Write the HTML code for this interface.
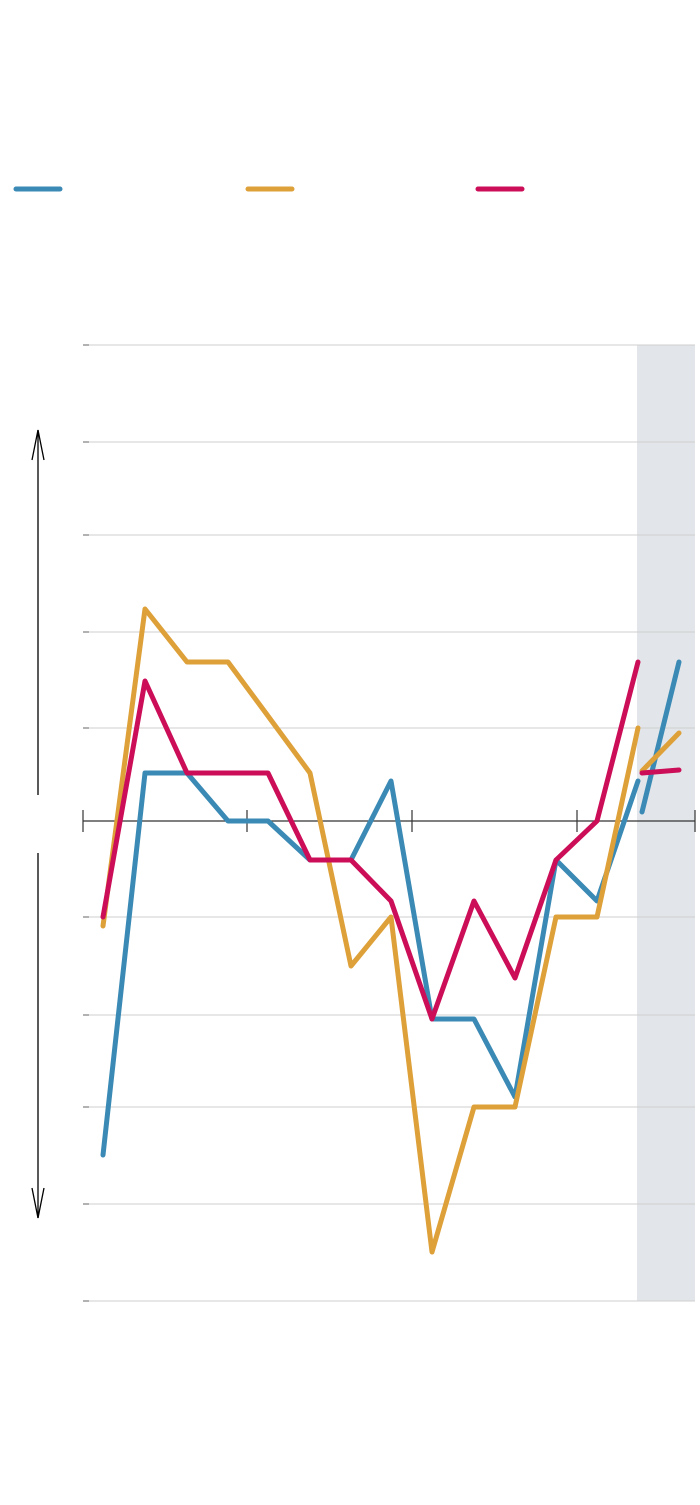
<!DOCTYPE html>
<html><head><meta charset="utf-8"><style>html,body{margin:0;padding:0;background:#fff}</style></head>
<body>
<svg width="700" height="1500" viewBox="0 0 700 1500" xmlns="http://www.w3.org/2000/svg">
<rect x="637" y="345" width="58" height="956" fill="#e2e6ea"/>
<g stroke="#cfcfcf" stroke-width="1">
<line x1="83" y1="345" x2="695" y2="345"/><line x1="83" y1="442" x2="695" y2="442"/>
<line x1="83" y1="535" x2="695" y2="535"/><line x1="83" y1="632" x2="695" y2="632"/>
<line x1="83" y1="728" x2="695" y2="728"/><line x1="83" y1="917" x2="695" y2="917"/>
<line x1="83" y1="1015" x2="695" y2="1015"/><line x1="83" y1="1107" x2="695" y2="1107"/>
<line x1="83" y1="1204" x2="695" y2="1204"/><line x1="83" y1="1301" x2="695" y2="1301"/>
</g>
<g stroke="#666" stroke-width="1">
<line x1="83" y1="345" x2="89" y2="345"/><line x1="83" y1="442" x2="89" y2="442"/>
<line x1="83" y1="535" x2="89" y2="535"/><line x1="83" y1="632" x2="89" y2="632"/>
<line x1="83" y1="728" x2="89" y2="728"/><line x1="83" y1="917" x2="89" y2="917"/>
<line x1="83" y1="1015" x2="89" y2="1015"/><line x1="83" y1="1107" x2="89" y2="1107"/>
<line x1="83" y1="1204" x2="89" y2="1204"/><line x1="83" y1="1301" x2="89" y2="1301"/>
</g>
<g stroke="#333" stroke-width="1.2">
<line x1="83" y1="821" x2="695" y2="821"/>
<line x1="83" y1="810" x2="83" y2="832"/><line x1="247" y1="810" x2="247" y2="832"/>
<line x1="412" y1="810" x2="412" y2="832"/><line x1="577" y1="810" x2="577" y2="832"/>
<line x1="695" y1="810" x2="695" y2="832"/>
</g>
<g stroke="#000" stroke-width="1.3" fill="none">
<line x1="38" y1="795" x2="38" y2="430"/><polyline points="32,460 38,430 44,460"/>
<line x1="38" y1="853" x2="38" y2="1218"/><polyline points="32,1188 38,1218 44,1188"/>
</g>
<g fill="none" stroke-width="5" stroke-linejoin="round" stroke-linecap="round">
<polyline stroke="#3a8ab5" points="103,1155 145,773 187,773 228,821 268,821 310,860 351,860 391,781 432,1019 474,1019 515,1097 556,860 597,901 638,781"/>
<polyline stroke="#3a8ab5" points="642,812 679,662"/>
<polyline stroke="#dea038" points="103,926 145,609 187,662 228,662 268,716 310,773 351,966 391,917 432,1252 474,1107 515,1107 556,917 597,917 638,728"/>
<polyline stroke="#dea038" points="642,771 679,733"/>
<polyline stroke="#cc0e58" points="103,917 145,681 187,773 228,773 268,773 310,860 351,860 391,901 432,1019 474,901 515,978 556,860 597,821 638,662"/>
<polyline stroke="#cc0e58" points="642,773 679,770"/>
<line stroke="#3a8ab5" x1="16" y1="189" x2="60" y2="189"/>
<line stroke="#dea038" x1="248" y1="189" x2="292" y2="189"/>
<line stroke="#cc0e58" x1="478" y1="189" x2="522" y2="189"/>
</g>
</svg>
</body></html>
